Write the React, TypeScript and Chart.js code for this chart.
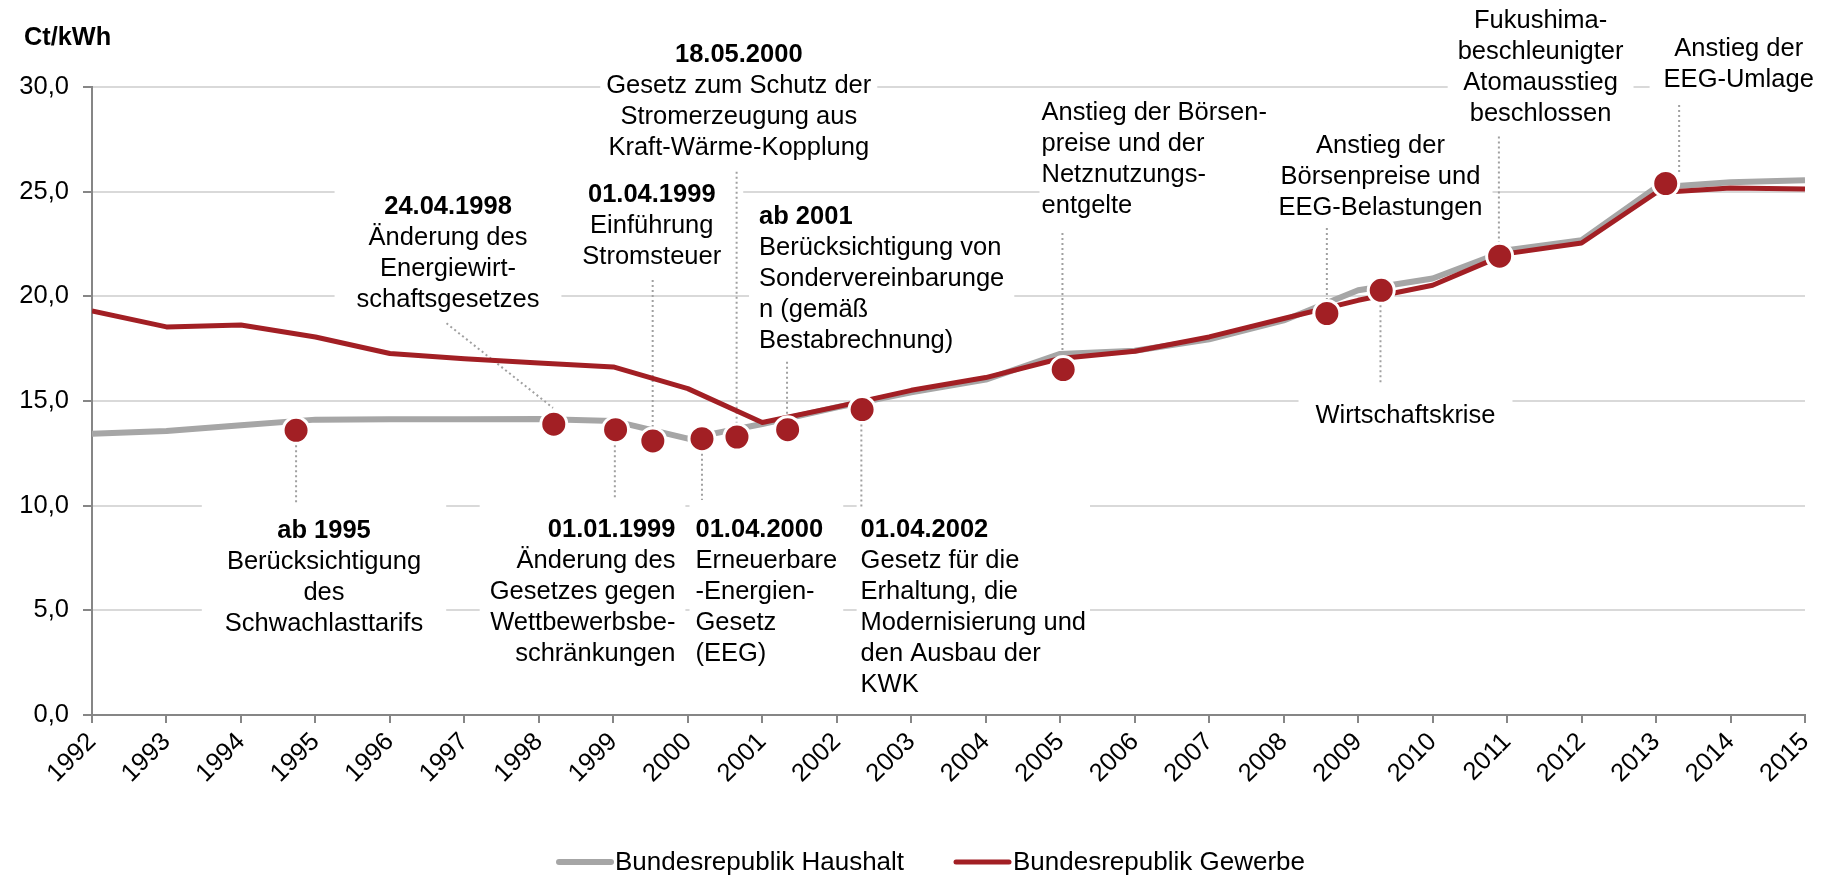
import React, { useEffect, useRef } from "react";
import { Chart, registerables } from "chart.js";

Chart.register(...registerables);

// ---------- data ----------
const years = [1992, 1993, 1994, 1995, 1996, 1997, 1998, 1999, 2000, 2001, 2002, 2003, 2004, 2005, 2006, 2007, 2008, 2009, 2010, 2011, 2012, 2013, 2014, 2015];
const haushalt = [13.44, 13.57, 13.84, 14.11, 14.13, 14.13, 14.14, 14.05, 13.2, 13.9, 14.7, 15.42, 16.02, 17.25, 17.4, 17.95, 18.85, 20.29, 20.85, 22.2, 22.68, 25.2, 25.45, 25.55];
const gewerbe = [19.3, 18.54, 18.63, 18.06, 17.27, 17.02, 16.82, 16.63, 15.59, 13.97, 14.72, 15.51, 16.12, 17.03, 17.38, 18.06, 18.94, 19.81, 20.53, 22.04, 22.55, 24.95, 25.18, 25.13];
const eventYears = [1994.74, 1998.2, 1999.03, 1999.53, 2000.19, 2000.66, 2001.34, 2002.34, 2005.04, 2008.58, 2009.31, 2010.9, 2013.13];
const eventValues = [13.6, 13.89, 13.63, 13.09, 13.2, 13.28, 13.63, 14.59, 16.5, 19.18, 20.29, 21.92, 25.39];
const seriesNames = ["Bundesrepublik Haushalt", "Bundesrepublik Gewerbe"];
const unitLabel = "Ct/kWh";

// ---------- annotation layout (text + anchor in data units) ----------
type Note = {
  lines: string[];
  bold: boolean;
  align: "left" | "center" | "right";
  x: number;
  y: number;
  padX: number;
  padY: number;
  leader: [number, number, number, number];
};

const notes: Note[] = [
  { lines: ["ab 1995", "Berücksichtigung", "des", "Schwachlasttarifs"], bold: true, align: "center", x: 1995.115, y: 8.81, padX: 23, padY: 12, leader: [1994.74, 13.6, 1994.74, 10.03] },
  { lines: ["24.04.1998", "Änderung des", "Energiewirt-", "schaftsgesetzes"], bold: true, align: "center", x: 1996.78, y: 24.25, padX: 22, padY: 9, leader: [1996.76, 18.71, 1998.19, 14.67] },
  { lines: ["01.01.1999", "Änderung des", "Gesetzes gegen", "Wettbewerbsbe-", "schränkungen"], bold: true, align: "right", x: 1999.833, y: 8.84, padX: 10, padY: 12, leader: [1999.02, 13.6, 1999.02, 10.27] },
  { lines: ["01.04.2000", "Erneuerbare", "-Energien-", "Gesetz", "(EEG)"], bold: true, align: "left", x: 2000.103, y: 8.84, padX: 6, padY: 12, leader: [2000.19, 13.2, 2000.19, 10.27] },
  { lines: ["01.04.2002", "Gesetz für die", "Erhaltung, die", "Modernisierung und", "den Ausbau der", "KWK"], bold: true, align: "left", x: 2002.32, y: 8.84, padX: 4, padY: 12, leader: [2002.33, 14.59, 2002.33, 9.95] },
  { lines: ["01.04.1999", "Einführung", "Stromsteuer"], bold: true, align: "center", x: 1999.516, y: 24.84, padX: 22, padY: 9, leader: [1999.528, 20.78, 1999.528, 13.09] },
  { lines: ["18.05.2000", "Gesetz zum Schutz der", "Stromerzeugung aus", "Kraft-Wärme-Kopplung"], bold: true, align: "center", x: 2000.684, y: 31.53, padX: 6, padY: 8, leader: [2000.655, 25.95, 2000.655, 13.28] },
  { lines: ["ab 2001", "Berücksichtigung von", "Sondervereinbarunge", "n (gemäß", "Bestabrechnung)"], bold: true, align: "left", x: 2000.956, y: 23.8, padX: 10, padY: 8, leader: [2001.332, 16.88, 2001.332, 13.63] },
  { lines: ["Anstieg der Börsen-", "preise und der", "Netznutzungs-", "entgelte"], bold: false, align: "left", x: 2004.749, y: 28.74, padX: 2, padY: 8, leader: [2005.03, 23.03, 2005.03, 16.5] },
  { lines: ["Anstieg der", "Börsenpreise und", "EEG-Belastungen"], bold: false, align: "center", x: 2009.3, y: 27.2, padX: 10, padY: 8, leader: [2008.58, 23.26, 2008.58, 19.18] },
  { lines: ["Wirtschaftskrise"], bold: false, align: "center", x: 2009.636, y: 14.3, padX: 17, padY: 9, leader: [2009.3, 20.29, 2009.3, 15.76] },
  { lines: ["Fukushima-", "beschleunigter", "Atomausstieg", "beschlossen"], bold: false, align: "center", x: 2011.45, y: 33.15, padX: 10, padY: 8, leader: [2010.89, 27.63, 2010.89, 21.92] },
  { lines: ["Anstieg der", "EEG-Umlage"], bold: false, align: "center", x: 2014.11, y: 31.82, padX: 14, padY: 8, leader: [2013.31, 29.14, 2013.31, 25.89] },
];

const FONT = "'Liberation Sans', Arial, Helvetica, sans-serif";
const TEXT_SIZE = 25.5;
const LINE_H = 31;
const RED = "#a21f24";
const GRAY = "#a6a6a6";
const AXIS = "#868686";

const notesPlugin = {
  id: "notesPlugin",
  beforeDatasetsDraw(chart: any) {
    const ctx: CanvasRenderingContext2D = chart.ctx;
    const xs = chart.scales.x;
    const ys = chart.scales.y;
    ctx.save();
    const fontFor = (bold: boolean) => `${bold ? "bold " : ""}${TEXT_SIZE}px ${FONT}`;
    const boxes = notes.map((n) => {
      const px = xs.getPixelForValue(n.x);
      const py = ys.getPixelForValue(n.y);
      const widths = n.lines.map((l, i) => {
        ctx.font = fontFor(n.bold && i === 0);
        return ctx.measureText(l).width;
      });
      const w = Math.max(...widths);
      const left = n.align === "left" ? px : n.align === "center" ? px - w / 2 : px - w;
      return { n, px, py, w, left };
    });
    // white boxes
    ctx.fillStyle = "#ffffff";
    for (const b of boxes) {
      const top = b.py - LINE_H / 2 - b.n.padY;
      const bottom = b.py + (b.n.lines.length - 1) * LINE_H + LINE_H / 2 + b.n.padY;
      ctx.fillRect(b.left - b.n.padX, top, b.w + 2 * b.n.padX, bottom - top);
    }
    // leaders
    ctx.strokeStyle = "#a0a0a0";
    ctx.lineWidth = 2;
    ctx.setLineDash([2, 3]);
    for (const b of boxes) {
      const [x1, y1, x2, y2] = b.n.leader;
      ctx.beginPath();
      ctx.moveTo(xs.getPixelForValue(x1), ys.getPixelForValue(y1));
      ctx.lineTo(xs.getPixelForValue(x2), ys.getPixelForValue(y2));
      ctx.stroke();
    }
    ctx.setLineDash([]);
    // texts
    ctx.fillStyle = "#000000";
    ctx.textBaseline = "middle";
    for (const b of boxes) {
      ctx.textAlign = b.n.align;
      b.n.lines.forEach((l, i) => {
        ctx.font = fontFor(b.n.bold && i === 0);
        ctx.fillText(l, b.px, b.py + i * LINE_H);
      });
    }
    ctx.restore();
  },
  afterDraw(chart: any) {
    const ctx: CanvasRenderingContext2D = chart.ctx;
    ctx.save();
    ctx.fillStyle = "#000";
    ctx.textBaseline = "middle";
    ctx.textAlign = "left";
    ctx.font = `bold 25.3px ${FONT}`;
    ctx.fillText(unitLabel, 24, 38);
    // legend
    const items = [
      { color: GRAY, width: 6, x0: 559, x1: 611, tx: 615 },
      { color: RED, width: 5, x0: 956, x1: 1009, tx: 1013 },
    ];
    ctx.font = `26px ${FONT}`;
    items.forEach((it, i) => {
      ctx.strokeStyle = it.color;
      ctx.lineWidth = it.width;
      ctx.lineCap = "round";
      ctx.beginPath();
      ctx.moveTo(it.x0, 862);
      ctx.lineTo(it.x1, 862);
      ctx.stroke();
      ctx.fillStyle = "#000";
      ctx.fillText(seriesNames[i], it.tx, 863);
    });
    ctx.restore();
  },
};

export default function App() {
  const ref = useRef<HTMLCanvasElement | null>(null);
  useEffect(() => {
    document.body.style.margin = "0";
    const canvas = ref.current;
    if (!canvas) return;
    const chart = new Chart(canvas, {
      type: "line",
      data: {
        datasets: [
          {
            label: seriesNames[0],
            data: years.map((yr, i) => ({ x: yr, y: haushalt[i] })),
            borderColor: GRAY,
            backgroundColor: GRAY,
            borderWidth: 6,
            pointRadius: 0,
            tension: 0,
            borderJoinStyle: "round",
            order: 2,
          },
          {
            label: seriesNames[1],
            data: years.map((yr, i) => ({ x: yr, y: gewerbe[i] })),
            borderColor: RED,
            backgroundColor: RED,
            borderWidth: 5,
            pointRadius: 0,
            tension: 0,
            borderJoinStyle: "round",
            order: 1,
          },
          {
            label: "events",
            data: eventYears.map((yr, i) => ({ x: yr, y: eventValues[i] })),
            showLine: false,
            pointRadius: 13,
            pointHoverRadius: 13,
            pointBackgroundColor: RED,
            pointBorderColor: "#ffffff",
            pointBorderWidth: 3,
            order: 0,
          },
        ],
      } as any,
      options: {
        animation: false,
        responsive: false,
        events: [],
        layout: { padding: { top: 87, left: 0, right: 24, bottom: 0 } },
        plugins: { legend: { display: false }, tooltip: { enabled: false } },
        scales: {
          x: {
            type: "linear",
            min: years[0],
            max: years[years.length - 1],
            afterFit: (s: any) => {
              s.height = 160;
              s.paddingLeft = 0;
              s.paddingRight = 0;
            },
            border: { color: AXIS, width: 2 },
            grid: { drawOnChartArea: false, drawTicks: true, tickLength: 8, tickColor: AXIS, lineWidth: 2 },
            ticks: {
              stepSize: 1,
              autoSkip: false,
              minRotation: 45,
              maxRotation: 45,
              padding: 4,
              color: "#000",
              font: { family: FONT, size: TEXT_SIZE },
              callback: (v: any) => String(v),
            },
          },
          y: {
            type: "linear",
            min: 0,
            max: 30,
            afterFit: (s: any) => {
              s.width = 92;
              s.paddingTop = 0;
              s.paddingBottom = 0;
            },
            border: { color: AXIS, width: 2 },
            grid: { color: "#d9d9d9", lineWidth: 2, tickLength: 9, tickColor: AXIS },
            ticks: {
              stepSize: 5,
              padding: 14,
              color: "#000",
              font: { family: FONT, size: TEXT_SIZE },
              callback: (v: any) => Number(v).toFixed(1).replace(".", ","),
            },
          },
        },
      },
      plugins: [notesPlugin],
    } as any);
    return () => chart.destroy();
  }, []);
  return (
    <div style={{ width: 1829, height: 875, position: "relative" }}>
      <canvas ref={ref} width={1829} height={875} style={{ display: "block" }} />
    </div>
  );
}
